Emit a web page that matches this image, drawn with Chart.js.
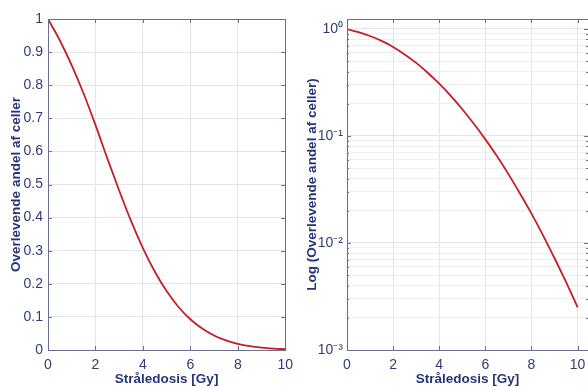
<!DOCTYPE html>
<html>
<head>
<meta charset="utf-8">
<script src="https://cdn.jsdelivr.net/npm/chart.js@4/dist/chart.umd.min.js"></script>
<style>
  body { margin: 0; background: #fff; overflow: hidden; width: 588px; height: 387px; position: relative; }
  .panel { position: absolute; top: 0; }
</style>
</head>
<body>
<div class="panel" style="left:0px"><canvas id="linChart" width="300" height="387"></canvas></div>
<div class="panel" style="left:296px"><canvas id="logChart" width="300" height="387"></canvas></div>
<script>
"use strict";
// dose (Gy) and surviving fraction
const doses = [0, 0.5, 1, 1.5, 2, 2.5, 3, 3.5, 4, 4.5, 5, 5.5, 6, 6.5, 7, 7.5, 8, 8.5, 9, 9.5, 10];
const survival = [1, 0.935, 0.86, 0.775, 0.68, 0.579, 0.482, 0.39, 0.308, 0.237, 0.178,
    0.130, 0.093, 0.065, 0.044, 0.029, 0.0188, 0.0118, 0.0072, 0.0043, 0.0025];
const doseTicks = [0, 2, 4, 6, 8, 10];
const linTicks = [0, 0.1, 0.2, 0.3, 0.4, 0.5, 0.6, 0.7, 0.8, 0.9, 1];
const logDecades = [0.001, 0.01, 0.1, 1];
const logLabels = ["10\u207B\u00B3", "10\u207B\u00B2", "10\u207B\u00B9", "10\u2070"];
const xTitle = "Str\u00E5ledosis [Gy]";
const yTitleLin = "Overlevende andel af celler";
const yTitleLog = "Log (Overlevende andel af celler)";

const lineColor = '#c41f27';
const axisColor = '#6a6f8e';
const labelColor = '#2f3d74';
const titleColor = '#26357a';
const gridColor = '#e2e4eb';
const minorGridColor = '#eceef2';
const fontFamily = '"Liberation Sans", Arial, sans-serif';

function points() {
    return doses.map((d, i) => ({ x: d, y: survival[i] }));
}

function isDecade(v) {
    return logDecades.some(p => Math.abs(v - p) < p * 1e-6);
}

// box round the plot area plus small inward tick marks, MATLAB style
const framePlugin = {
    id: 'frame',
    afterDraw(chart) {
        const ctx = chart.ctx;
        const a = chart.chartArea;
        const xs = chart.scales.x, ys = chart.scales.y;
        ctx.save();
        ctx.strokeStyle = axisColor;
        ctx.lineWidth = 1;
        ctx.strokeRect(Math.round(a.left) + 0.5, Math.round(a.top) + 0.5,
            Math.round(a.right - a.left), Math.round(a.bottom - a.top));
        ctx.beginPath();
        xs.ticks.forEach(t => {
            const px = Math.round(xs.getPixelForValue(t.value)) + 0.5;
            ctx.moveTo(px, a.bottom); ctx.lineTo(px, a.bottom - 4);
            ctx.moveTo(px, a.top); ctx.lineTo(px, a.top + 4);
        });
        ys.ticks.forEach(t => {
            const py = Math.round(ys.getPixelForValue(t.value)) + 0.5;
            const len = (ys.type === 'logarithmic' && !isDecade(t.value)) ? 2 : 4;
            ctx.moveTo(a.left, py); ctx.lineTo(a.left + len, py);
            ctx.moveTo(a.right, py); ctx.lineTo(a.right - len, py);
        });
        ctx.stroke();
        ctx.restore();
    }
};

function makeOptions(yScale, xMax) {
    return {
        responsive: false,
        animation: false,
        layout: { padding: { top: 19, right: 8, left: 0, bottom: 0 } },
        plugins: { legend: { display: false }, tooltip: { enabled: false } },
        scales: {
            x: {
                type: 'linear',
                min: 0,
                max: xMax,
                afterBuildTicks: s => { s.ticks = doseTicks.map(v => ({ value: v })); },
                afterFit: s => { s.height = 37; },
                grid: { color: gridColor, tickLength: 0, drawTicks: false },
                border: { color: axisColor },
                ticks: { color: labelColor, padding: 7, maxRotation: 0,
                    font: { family: fontFamily, size: 14 } },
                title: { display: true, text: xTitle, color: titleColor,
                    padding: { top: 0, bottom: 0 },
                    font: { family: fontFamily, size: 13.5, weight: 'bold' } }
            },
            y: yScale
        }
    };
}

const linY = {
    type: 'linear',
    min: 0,
    max: 1,
    afterBuildTicks: s => { s.ticks = linTicks.map(v => ({ value: v })); },
    afterFit: s => { s.width = 48; },
    grid: { color: gridColor, drawTicks: false },
    border: { color: axisColor },
    ticks: { color: labelColor, padding: 5,
        font: { family: fontFamily, size: 14 },
        callback: v => String(Math.round(v * 10) / 10) },
    title: { display: true, text: yTitleLin, color: titleColor,
        padding: { top: 8, bottom: 0 },
        font: { family: fontFamily, size: 13.5, weight: 'bold' } }
};

// all 1..9 x 10^n positions for the log grid
const logTicks = [];
logDecades.forEach(p => {
    if (p >= 1) { logTicks.push(p); return; }
    for (let k = 1; k <= 9; k++) logTicks.push(k * p);
});

const logY = {
    type: 'logarithmic',
    min: 0.001,
    max: 1.24,
    afterBuildTicks: s => { s.ticks = logTicks.filter((v, i, arr) => arr.indexOf(v) === i).map(v => ({ value: v })); },
    afterFit: s => { s.width = 51; },
    grid: {
        drawTicks: false,
        color: c => (c.tick && isDecade(c.tick.value)) ? gridColor : minorGridColor
    },
    border: { color: axisColor },
    ticks: { color: labelColor, padding: 4, autoSkip: false,
        font: { family: fontFamily, size: 14 },
        callback: v => {
            const i = logDecades.findIndex(p => Math.abs(v - p) < p * 1e-6);
            return i >= 0 ? logLabels[i] : '';
        } },
    title: { display: true, text: yTitleLog, color: titleColor,
        padding: { top: 8, bottom: 0 },
        font: { family: fontFamily, size: 13.5, weight: 'bold' } }
};

function dataset() {
    return {
        datasets: [{
            data: points(),
            borderColor: lineColor,
            borderWidth: 1.8,
            pointRadius: 0,
            fill: false,
            cubicInterpolationMode: 'monotone'
        }]
    };
}

new Chart(document.getElementById('linChart'), {
    type: 'line',
    data: dataset(),
    options: makeOptions(linY, 10),
    plugins: [framePlugin]
});

new Chart(document.getElementById('logChart'), {
    type: 'line',
    data: dataset(),
    options: makeOptions(logY, 10.45),
    plugins: [framePlugin]
});
</script>
</body>
</html>
